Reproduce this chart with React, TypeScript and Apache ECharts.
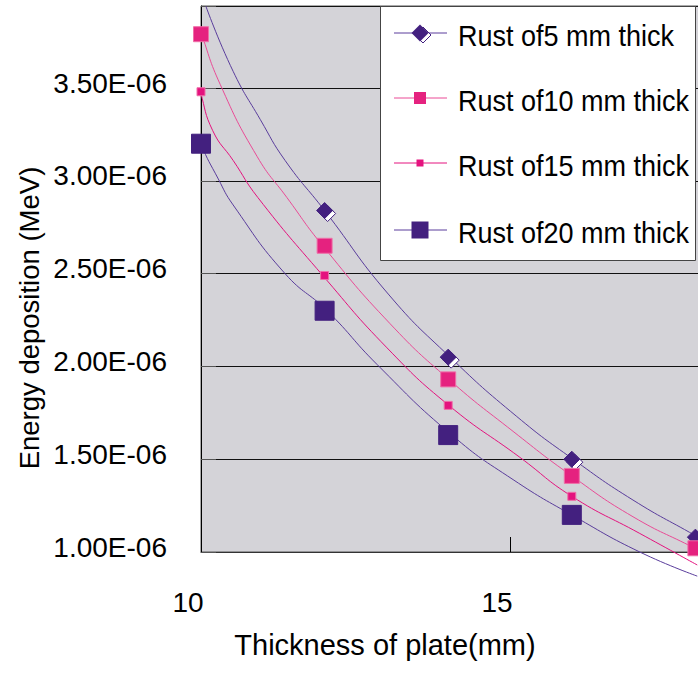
import React, { useEffect, useRef } from "react";
import * as echarts from "echarts";

// Plate thickness (mm) at which the markers were measured
const xThickness = [10, 12, 14, 16, 18];
// Energy deposition, in units of 1E-06 MeV (null = outside the plotted range)
const rust5 = [null, 2.84, 2.05, 1.5, 1.08];
const rust10 = [3.79, 2.65, 1.93, 1.41, 1.02];
const rust15 = [3.48, 2.49, 1.79, 1.3, null];
const rust20 = [3.2, 2.3, 1.63, 1.2, null];

// Trend curves: [thickness mm, energy 1E-06 MeV]
const curve5 = [
  [10.08, 3.94], [10.52, 3.59], [10.96, 3.33], [11.36, 3.11], [12.0, 2.84],
  [13.03, 2.39], [14.03, 2.05], [15.11, 1.73], [16.02, 1.5], [16.99, 1.28],
  [17.99, 1.09], [18.15, 1.06],
];
const curve10 = [
  [9.87, 3.94], [10.0, 3.8], [10.31, 3.52], [10.91, 3.13], [11.39, 2.91],
  [11.97, 2.65], [13.06, 2.23], [14.01, 1.93], [15.05, 1.65], [16.0, 1.41],
  [16.99, 1.19], [17.99, 1.02], [18.15, 0.99],
];
const curve15 = [
  [9.82, 3.7], [9.99, 3.48], [10.19, 3.27], [10.52, 3.11], [10.92, 2.91],
  [11.97, 2.49], [13.01, 2.1], [14.01, 1.79], [15.16, 1.51], [16.0, 1.3],
  [17.1, 1.1], [18.03, 0.93],
];
const curve20 = [
  [9.81, 3.4], [10.0, 3.2], [10.28, 3.01], [10.52, 2.87], [11.36, 2.5],
  [12.04, 2.3], [12.85, 2.01], [14.06, 1.63], [15.05, 1.39], [16.05, 1.19],
  [17.1, 1.0], [18.03, 0.87],
];

const legendNames = [
  "Rust of5 mm thick",
  "Rust of10 mm thick",
  "Rust of15 mm thick",
  "Rust of20 mm thick",
];

const PURPLE = "#43207f";
const PURPLE_LINE = "#5a3d9c";
const PINK = "#e5227f";
const PINK_LINE = "#ea4b96";
const PINK2 = "#e4127e";
const FONT = '"Liberation Sans", Arial, sans-serif';

function pts(ys: (number | null)[]) {
  const out: number[][] = [];
  ys.forEach((y, i) => {
    if (y !== null) out.push([xThickness[i], y]);
  });
  return out;
}

export default function App() {
  const ref = useRef<HTMLDivElement>(null);
  useEffect(() => {
    if (!ref.current) return;
    const chart = echarts.init(ref.current, null, { renderer: "svg" });

    const line = (data: number[][], color: string) => ({
      type: "line",
      data,
      smooth: true,
      symbol: "none",
      clip: false,
      silent: true,
      z: 2,
      lineStyle: { color, width: 1 },
    });
    const scatter = (
      data: number[][],
      symbol: string,
      size: number,
      color: string,
      border: string,
      extra: any = {}
    ) => ({
      type: "scatter",
      data,
      symbol,
      symbolSize: size,
      clip: false,
      silent: true,
      z: 3,
      itemStyle: { color, borderColor: border, borderWidth: 1, opacity: 1 },
      ...extra,
    });

    const rowY = [33, 98, 163, 230];
    const legendEls: any[] = [
      {
        type: "rect",
        z: 100,
        shape: { x: 380.5, y: 6.5, width: 315, height: 254 },
        style: { fill: "#ffffff", stroke: "#444", lineWidth: 1 },
      },
    ];
    const lineCols = [PURPLE_LINE, PINK_LINE, PINK2, PURPLE_LINE];
    rowY.forEach((y, i) => {
      legendEls.push({
        type: "line",
        z: 101,
        shape: { x1: 394, y1: y, x2: 447, y2: y },
        style: { stroke: lineCols[i], lineWidth: 1 },
      });
      if (i === 0) {
        legendEls.push({
          type: "polygon",
          z: 102,
          shape: { points: [[423, 27], [431, 35], [423, 43], [415, 35]] },
          style: { fill: "#fff", stroke: PURPLE, lineWidth: 1 },
        });
        legendEls.push({
          type: "polygon",
          z: 103,
          shape: { points: [[420, 24.5], [428.5, 33], [420, 41.5], [411.5, 33]] },
          style: { fill: PURPLE },
        });
      } else {
        const s = i === 1 ? 12 : i === 2 ? 7 : 17;
        const c = i === 1 ? PINK : i === 2 ? PINK2 : PURPLE;
        legendEls.push({
          type: "rect",
          z: 103,
          shape: { x: 420 - s / 2, y: y - s / 2, width: s, height: s },
          style: { fill: c },
        });
      }
      legendEls.push({
        type: "text",
        z: 104,
        x: 458,
        y: y + 2,
        scaleX: 0.9,
        style: {
          text: legendNames[i],
          fontSize: 30,
          fontFamily: FONT,
          fill: "#000",
          verticalAlign: "middle",
          align: "left",
        },
      });
    });

    chart.setOption({
      animation: false,
      grid: {
        left: 201,
        top: 6,
        width: 525.3,
        height: 546,
        outerBoundsMode: "none",
        containLabel: false,
        show: true,
        backgroundColor: "#d4d3d8",
        borderColor: "#555",
        borderWidth: 1,
      },
      xAxis: {
        type: "value",
        min: 10,
        max: 18.5,
        interval: 5,
        axisLine: { onZero: false, lineStyle: { color: "#333", width: 1 } },
        axisTick: { inside: true, length: 15, lineStyle: { color: "#000" } },
        splitLine: { show: false },
        axisLabel: {
          margin: 36,
          fontSize: 28,
          fontFamily: FONT,
          color: "#000",
          padding: [0, 26, 0, 0],
          formatter: (v: number) => (Math.abs(v % 5) < 1e-6 ? String(v) : ""),
        },
      },
      yAxis: {
        type: "value",
        min: 1,
        max: 3.942,
        interval: 0.5,
        axisLine: { onZero: false, lineStyle: { color: "#000", width: 1 } },
        axisTick: { inside: true, length: 15, lineStyle: { color: "#555" } },
        splitLine: { show: true, lineStyle: { color: "#111", width: 1 } },
        axisLabel: {
          margin: 34,
          fontSize: 28,
          fontFamily: FONT,
          color: "#000",
          verticalAlign: "bottom",
          lineHeight: 10,
          formatter: (v: number) =>
            Math.abs(v * 2 - Math.round(v * 2)) < 1e-6 ? v.toFixed(2) + "E-06" : "",
        },
      },
      series: [
        line(curve5, PURPLE_LINE),
        line(curve10, PINK_LINE),
        line(curve15, PINK2),
        line(curve20, PURPLE_LINE),
        scatter(pts(rust5), "diamond", 16, "#ffffff", PURPLE, { symbolOffset: [3, 3] }),
        scatter(pts(rust5), "diamond", 16, PURPLE, PURPLE),
        scatter(pts(rust10), "rect", 15, PINK, "#ef6fa8"),
        scatter(pts(rust15), "rect", 8, PINK2, "#ef6fa8"),
        scatter(pts(rust20), "rect", 19, PURPLE, PURPLE),
      ],
      graphic: [
        ...legendEls,
        {
          type: "text",
          z: 100,
          x: 385,
          y: 645,
          style: {
            text: "Thickness of plate(mm)",
            fontSize: 29,
            fontFamily: FONT,
            fill: "#000",
            align: "center",
            verticalAlign: "middle",
          },
        },
        {
          type: "text",
          z: 100,
          x: 29,
          y: 318,
          rotation: Math.PI / 2,
          style: {
            text: "Energy deposition (MeV)",
            fontSize: 27.5,
            fontFamily: FONT,
            fill: "#000",
            align: "center",
            verticalAlign: "middle",
          },
        },
      ],
    });
    return () => chart.dispose();
  }, []);
  return (
    <div
      ref={ref}
      style={{ position: "fixed", left: 0, top: 0, width: 698, height: 691, background: "#fff" }}
    />
  );
}
